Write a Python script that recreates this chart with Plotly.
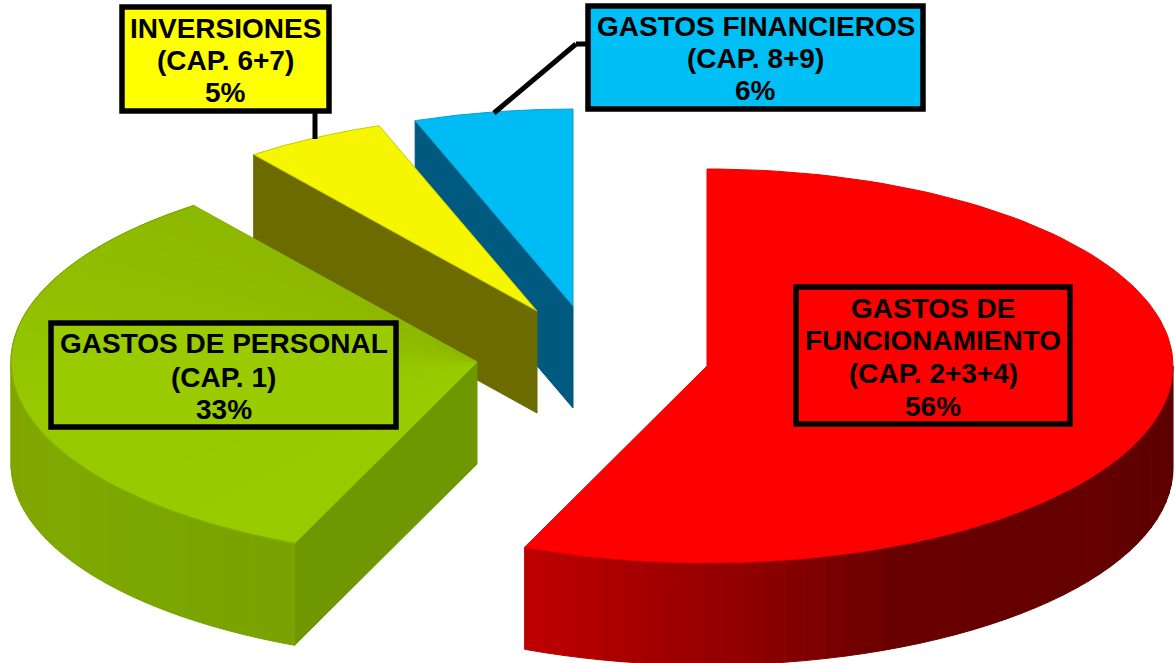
import numpy as np
import plotly.graph_objects as go

# ---------- data ----------
names = ["GASTOS DE FUNCIONAMIENTO", "GASTOS DE PERSONAL", "INVERSIONES", "GASTOS FINANCIEROS"]
chapters = ["(CAP. 2+3+4)", "(CAP. 1)", "(CAP. 6+7)", "(CAP. 8+9)"]
shares = [56.4, 33.2, 4.9, 5.5]
shown_pct = ["56%", "33%", "5%", "6%"]

# ---------- style / layout ----------
W, H = 1175, 663
RX, RY, DEPTH = 466, 197, 102
centers = [(707, 366), (477, 362), (537, 311), (573, 306)]
top_colors = ["#fe0000", "#99cb00", "#f6f600", "#00bcf4"]
edge_colors = ["#e80000", "#7da500", "#c8c800", "#0aa0d0"]
radial_colors = [None, "#6f9800", "#6b6b00", "#005a80"]
# outer-wall shading anchors, as (x pixel, colour)
red_x = [523, 650, 758, 888, 1103, 1175]
red_c = [(192, 0, 0), (163, 0, 0), (142, 0, 0), (106, 0, 0), (100, 0, 0), (92, 0, 0)]
green_x = [12, 60, 150, 295]
green_c = [(128, 165, 0), (128, 170, 0), (124, 166, 0), (122, 162, 0)]
wall_shades = {0: (red_x, red_c), 1: (green_x, green_c)}
wall_ranges = {0: (90, None), 1: (None, 270)}
# the green top face darkens slightly toward its far edge
green_top_t = [203, 260, 323]
green_top_c = [(153, 204, 0), (151, 200, 0), (141, 184, 0)]

boxes = [
    dict(i=0, x0=796, x1=1070, y0=287, y1=424, lines=["GASTOS DE", "FUNCIONAMIENTO", chapters[0], shown_pct[0]],
         ys=[308, 340, 373, 406], fill="#fe0000"),
    dict(i=1, x0=51, x1=396, y0=323, y1=427, lines=["GASTOS DE PERSONAL", chapters[1], shown_pct[1]],
         ys=[343, 377, 409], fill="#99cb00"),
    dict(i=2, x0=122, x1=329, y0=7, y1=111, lines=[names[2], chapters[2], shown_pct[2]],
         ys=[28, 60, 92], fill="#ffff00"),
    dict(i=3, x0=588, x1=923, y0=6, y1=109, lines=[names[3], chapters[3], shown_pct[3]],
         ys=[26, 58, 90], fill="#00bff5"),
]
leaders = [[(315, 112), (315, 139)], [(494, 113), (576, 44), (588, 44)]]

# ---------- geometry from the shares ----------
start_deg = 0.0
edges = start_deg + np.cumsum([0] + shares) * 3.6


def rim(c, t):
    t = np.radians(t)
    return c[0] + RX * np.sin(t), c[1] - RY * np.cos(t)


def poly(x, y, color, line=None, width=1):
    return go.Scatter(x=list(x), y=list(y), mode="lines", fill="toself", fillcolor=color,
                      line=dict(color=line or color, width=width), hoverinfo="skip", showlegend=False)


def rgb_at(v, xs, cs):
    r = [int(np.interp(v, xs, [k[j] for k in cs])) for j in range(3)]
    return f"rgb({r[0]},{r[1]},{r[2]})"


fig = go.Figure()
# painted back to front: blue, yellow, green, red
for i in [3, 2, 1, 0]:
    c = centers[i]
    a, b = edges[i], edges[i + 1]
    # radial wall
    if radial_colors[i]:
        ex, ey = rim(c, a)
        fig.add_trace(poly([c[0], ex, ex, c[0], c[0]],
                           [c[1], ey, ey + DEPTH, c[1] + DEPTH, c[1]], radial_colors[i]))
    # outer wall, shaded in thin bands
    if i in wall_shades:
        lo = wall_ranges[i][0] if wall_ranges[i][0] is not None else a
        hi = wall_ranges[i][1] if wall_ranges[i][1] is not None else b
        xs, cs = wall_shades[i]
        ts = np.linspace(lo, hi, 46)
        for t0, t1 in zip(ts[:-1], ts[1:]):
            seg = np.linspace(t0, t1, 4)
            px, py = rim(c, seg)
            col = rgb_at(rim(c, (t0 + t1) / 2)[0], xs, cs)
            fig.add_trace(poly(np.r_[px, px[::-1], px[0]], np.r_[py, py[::-1] + DEPTH, py[0]], col))
    # top face
    ts = np.linspace(a, b, 120)
    px, py = rim(c, ts)
    fig.add_trace(poly(np.r_[c[0], px, c[0]], np.r_[c[1], py, c[1]], top_colors[i], edge_colors[i], 1))
    if i == 1:
        bands = np.linspace(a, b, 31)
        for t0, t1 in zip(bands[:-1], bands[1:]):
            seg = np.linspace(t0, t1, 4)
            qx, qy = rim(c, seg)
            fig.add_trace(poly(np.r_[c[0], qx, c[0]], np.r_[c[1], qy, c[1]],
                               rgb_at((t0 + t1) / 2, green_top_t, green_top_c)))
        fig.add_trace(go.Scatter(x=list(px), y=list(py), mode="lines", hoverinfo="skip", showlegend=False,
                                 line=dict(color=edge_colors[i], width=1)))

shapes = []
for path in leaders:
    for (x0, y0), (x1, y1) in zip(path[:-1], path[1:]):
        shapes.append(dict(type="line", x0=x0, x1=x1, y0=y0, y1=y1, xref="x", yref="y",
                           line=dict(color="#000000", width=5)))
annotations = []
for bx in boxes:
    shapes.append(dict(type="rect", x0=bx["x0"], x1=bx["x1"], y0=bx["y0"], y1=bx["y1"], xref="x", yref="y",
                       fillcolor=bx["fill"], line=dict(color="#000000", width=5.5)))
    mid = (bx["x0"] + bx["x1"]) / 2
    for text, y in zip(bx["lines"], bx["ys"]):
        annotations.append(dict(x=mid, y=y, xref="x", yref="y", text=f"<b>{text}</b>", showarrow=False,
                                xanchor="center", yanchor="middle",
                                font=dict(family="Liberation Sans", size=28, color="#000000")))

fig.update_layout(
    width=W, height=H, margin=dict(l=0, r=0, t=0, b=0),
    paper_bgcolor="#ffffff", plot_bgcolor="#ffffff", showlegend=False,
    xaxis=dict(range=[0, W], visible=False, fixedrange=True),
    yaxis=dict(range=[H, 0], visible=False, fixedrange=True),
    shapes=shapes, annotations=annotations,
)
fig.write_html("out.html", config={"displayModeBar": False},
               post_script="document.body.style.margin='0';")
